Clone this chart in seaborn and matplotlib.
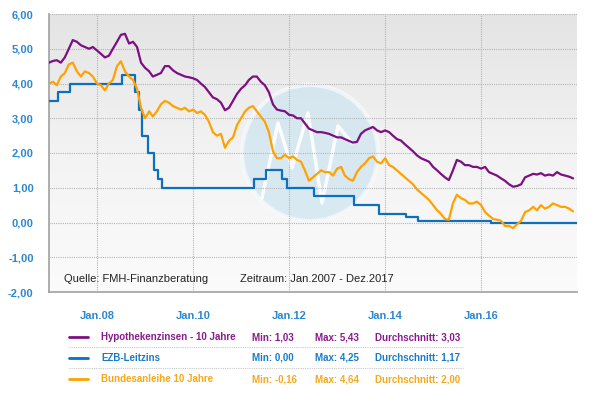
import numpy as np
import pandas as pd
import seaborn as sns
import matplotlib.pyplot as plt
import matplotlib.dates as mdates
from matplotlib.colors import LinearSegmentedColormap
from matplotlib.lines import Line2D
from matplotlib.patches import Circle

# monthly values Jan 2007 - Dec 2017
hypothek = [
    4.60, 4.65, 4.67, 4.60, 4.75, 5.00, 5.25, 5.20, 5.10, 5.05, 5.00, 5.05,
    4.95, 4.85, 4.75, 4.80, 5.00, 5.20, 5.40, 5.43, 5.15, 5.20, 5.05, 4.60,
    4.45, 4.35, 4.20, 4.25, 4.30, 4.50, 4.50, 4.38, 4.30, 4.25, 4.20, 4.18,
    4.15, 4.10, 4.00, 3.90, 3.75, 3.60, 3.55, 3.45, 3.23, 3.30, 3.50, 3.70,
    3.85, 3.95, 4.10, 4.20, 4.20, 4.05, 3.95, 3.75, 3.40, 3.25, 3.22, 3.20,
    3.10, 3.08, 3.00, 3.00, 2.85, 2.70, 2.65, 2.60, 2.60, 2.58, 2.55, 2.50,
    2.45, 2.45, 2.40, 2.35, 2.30, 2.32, 2.55, 2.65, 2.70, 2.75, 2.65, 2.60,
    2.65, 2.60, 2.50, 2.40, 2.36, 2.25, 2.15, 2.05, 1.93, 1.85, 1.80, 1.75,
    1.60, 1.50, 1.40, 1.30, 1.22, 1.50, 1.80, 1.75, 1.65, 1.65, 1.60, 1.60,
    1.55, 1.60, 1.45, 1.40, 1.35, 1.27, 1.20, 1.10, 1.03, 1.05, 1.10, 1.30,
    1.35, 1.40, 1.38, 1.42, 1.35, 1.38, 1.35, 1.45, 1.38, 1.35, 1.32, 1.27,
]
bund = [
    4.00, 4.05, 3.95, 4.20, 4.30, 4.55, 4.60, 4.35, 4.20, 4.35, 4.30, 4.20,
    4.00, 3.95, 3.80, 4.00, 4.10, 4.50, 4.64, 4.35, 4.20, 4.10, 3.85, 3.30,
    3.00, 3.20, 3.05, 3.20, 3.40, 3.50, 3.45, 3.35, 3.30, 3.25, 3.30, 3.20,
    3.25, 3.15, 3.20, 3.10, 2.90, 2.60, 2.50, 2.55, 2.15, 2.35, 2.45, 2.80,
    3.00, 3.20, 3.30, 3.35, 3.20, 3.05, 2.90, 2.60, 2.05, 1.85, 1.85, 1.95,
    1.85, 1.90, 1.80, 1.75, 1.50, 1.20, 1.30, 1.40, 1.50, 1.45, 1.45, 1.35,
    1.55, 1.60, 1.35, 1.25, 1.20, 1.45, 1.60, 1.70, 1.85, 1.90, 1.75, 1.70,
    1.85, 1.65, 1.60, 1.50, 1.40, 1.30, 1.20, 1.10, 0.95, 0.85, 0.75, 0.65,
    0.50, 0.35, 0.25, 0.10, 0.08, 0.55, 0.80, 0.70, 0.65, 0.55, 0.55, 0.60,
    0.50, 0.30, 0.20, 0.10, 0.08, 0.05, -0.10, -0.10, -0.16, -0.05, 0.05, 0.30,
    0.35, 0.45, 0.35, 0.50, 0.40, 0.45, 0.55, 0.50, 0.45, 0.45, 0.40, 0.32,
]
ezb_dates = [
    "2007-01-01", "2007-03-14", "2007-06-13", "2008-07-09", "2008-10-15",
    "2008-11-12", "2008-12-10", "2009-01-21", "2009-03-11", "2009-04-08",
    "2009-05-13", "2011-04-13", "2011-07-13", "2011-11-09", "2011-12-14",
    "2012-07-11", "2013-05-08", "2013-11-13", "2014-06-11", "2014-09-10",
    "2016-03-16", "2017-12-31",
]
ezb = [3.50, 3.75, 4.00, 4.25, 3.75, 3.25, 2.50, 2.00, 1.50, 1.25,
       1.00, 1.25, 1.50, 1.25, 1.00, 0.75, 0.50, 0.25, 0.15, 0.05,
       0.00, 0.00]

names = ["Hypothekenzinsen - 10 Jahre", "EZB-Leitzins", "Bundesanleihe 10 Jahre"]
colors = ["#7d0f82", "#0f6fbf", "#ffa200"]
text_colors = ["#8a1a8e", "#1a7cc6", "#f7a81b"]
stats = [("1,03", "5,43", "3,03"), ("0,00", "4,25", "1,17"), ("-0,16", "4,64", "2,00")]
ytick_vals = [-2, -1, 0, 1, 2, 3, 4, 5, 6]
xtick_years = [2008, 2010, 2012, 2014, 2016]

months = pd.date_range("2007-01-01", periods=len(hypothek), freq="MS")
df = pd.DataFrame({"datum": months, "hyp": hypothek, "bund": bund})
df_ezb = pd.DataFrame({"datum": pd.to_datetime(ezb_dates), "ezb": ezb})

sns.set_style("white")
plt.rcParams["font.family"] = ["Liberation Sans", "DejaVu Sans"]

fig = plt.figure(figsize=(6, 3.98), dpi=100)
ax = fig.add_axes([49 / 600, 1 - 292 / 398, 528 / 600, 278 / 398])

x0 = mdates.date2num(pd.Timestamp("2007-01-01"))
x1 = mdates.date2num(pd.Timestamp("2017-12-31"))

# background gradient
cmap = LinearSegmentedColormap.from_list("bg", ["#e4e4e4", "#f3f3f3", "#fbfbfb"])
ax.imshow(np.linspace(0, 1, 256).reshape(-1, 1), cmap=cmap, aspect="auto",
          extent=[x0, x1, -2, 6], zorder=0, origin="upper")

# watermark behind the lines
ax.add_patch(Circle((3.10, 2.45), 0.68, transform=fig.dpi_scale_trans,
                    facecolor="#cfe5f1", edgecolor="#f7fafc", lw=3, alpha=0.75, zorder=1))
ax.add_line(Line2D([2.62, 2.78, 2.92, 3.08, 3.22, 3.38, 3.52],
                   [2.0, 2.75, 2.3, 2.85, 1.95, 2.72, 2.55],
                   transform=fig.dpi_scale_trans, color="white", lw=2.5, alpha=0.9, zorder=1.5))

sns.lineplot(data=df, x="datum", y="hyp", ax=ax, color=colors[0], lw=1.6, zorder=3)
sns.lineplot(data=df_ezb, x="datum", y="ezb", ax=ax, color=colors[1], lw=1.6,
             drawstyle="steps-post", zorder=3)
sns.lineplot(data=df, x="datum", y="bund", ax=ax, color=colors[2], lw=1.6, zorder=3)

ax.set_xlim(x0, x1)
ax.set_ylim(-2, 6)
ax.set_xlabel("")
ax.set_ylabel("")

ax.set_yticks(ytick_vals)
ax.set_yticklabels([f"{v:.2f}".replace(".", ",") for v in ytick_vals])
ax.set_xticks([mdates.date2num(pd.Timestamp(f"{y}-01-01")) for y in xtick_years])
ax.set_xticklabels([f"Jan.{str(y)[2:]}" for y in xtick_years])
ax.tick_params(axis="both", colors="#999999", labelcolor="#2c87cf", labelsize=8, length=5, width=1)
ax.tick_params(axis="x", pad=9)
ax.tick_params(axis="y", pad=6)
for lab in ax.get_xticklabels() + ax.get_yticklabels():
    lab.set_fontweight("bold")

ax.grid(True, color="#b5b5b5", linestyle=(0, (1, 1)), lw=0.8, zorder=2)
ax.set_axisbelow(False)
for s in ["top", "right"]:
    ax.spines[s].set_visible(False)
ax.spines["left"].set_color("#a0a0a0")
ax.spines["bottom"].set_color("#a0a0a0")
ax.spines["left"].set_linewidth(1.2)
ax.spines["bottom"].set_linewidth(1.2)

fig.text(64 / 600, 1 - 279 / 398, "Quelle: FMH-Finanzberatung", fontsize=8, color="#222222", va="center")
fig.text(240 / 600, 1 - 279 / 398, "Zeitraum: Jan.2007 - Dez.2017", fontsize=8, color="#222222", va="center")

# legend rows
row_y = [337, 358, 379]
for i, yy in enumerate(row_y):
    yf = 1 - yy / 398
    fig.add_artist(Line2D([69 / 600, 88 / 600], [yf, yf], color=colors[i], lw=2))
    tc = text_colors[i]
    kw = dict(fontsize=7, color=tc, va="center", fontweight="bold")
    fig.text(101 / 600, yf, names[i], **kw)
    fig.text(252 / 600, yf, "Min: " + stats[i][0], **kw)
    fig.text(315 / 600, yf, "Max: " + stats[i][1], **kw)
    fig.text(375 / 600, yf, "Durchschnitt: " + stats[i][2], **kw)
for yy in [347, 368]:
    yf = 1 - yy / 398
    fig.add_artist(Line2D([69 / 600, 463 / 600], [yf, yf], color="#c8c8c8", lw=0.8, linestyle=(0, (1, 1))))

fig.savefig("out.png", dpi=100)
